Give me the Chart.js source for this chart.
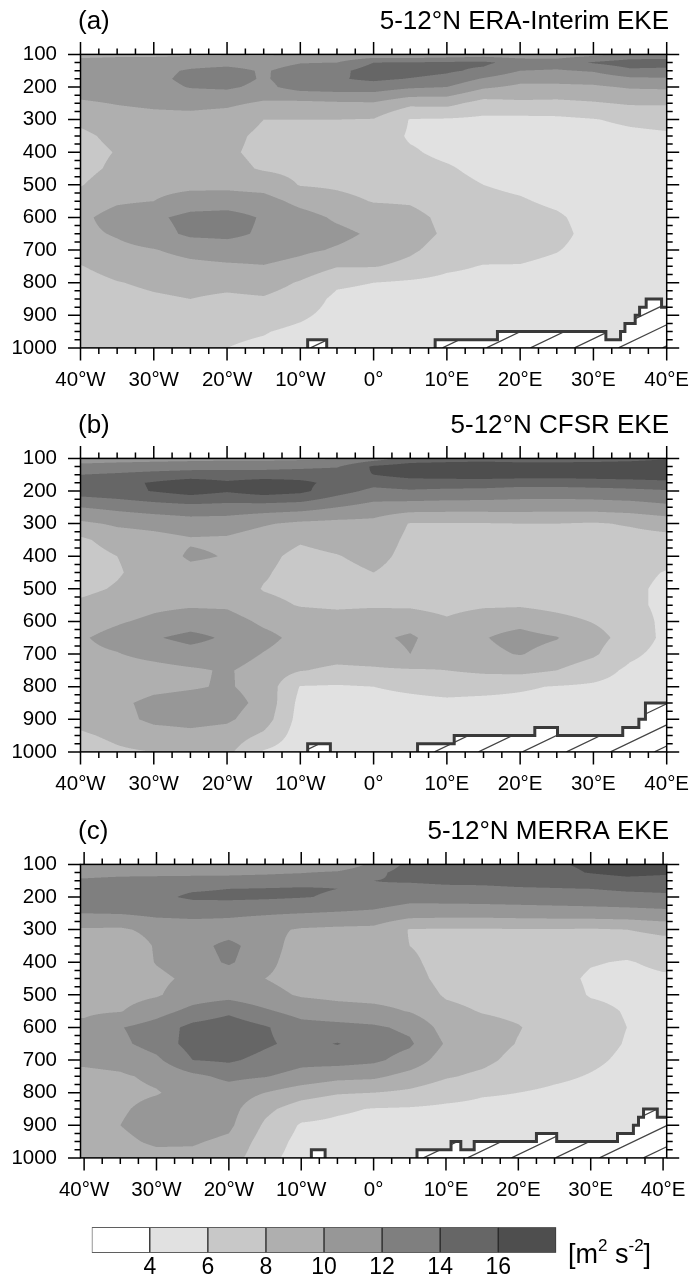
<!DOCTYPE html>
<html>
<head>
<meta charset="utf-8">
<script src="https://cdn.jsdelivr.net/npm/chart.js@4.4.1/dist/chart.umd.min.js"></script>
<style>
  html, body { margin: 0; padding: 0; background: #fff; }
  body { width: 693px; height: 1277px; position: relative; overflow: hidden;
         font-family: 'Liberation Sans', Arial, Helvetica, sans-serif; }
  canvas { position: absolute; left: 0; }
  #units { position: absolute; left: 568px; top: 1237px; font-size: 27px; line-height: 34px;
           color: #000; white-space: nowrap; }
  #units sup { font-size: 17px; vertical-align: baseline; position: relative; top: -12px; }
</style>
</head>
<body>
<canvas id="panelA" width="693" height="400" style="top:0px"></canvas>
<canvas id="panelB" width="693" height="400" style="top:404px"></canvas>
<canvas id="panelC" width="693" height="400" style="top:810px"></canvas>
<canvas id="colorbar" width="693" height="77" style="top:1200px"></canvas>
<div id="units">[m<sup>2</sup> s<sup>-2</sup>]</div>
<script>
// Analysis grid: longitude (deg E) and pressure levels (hPa)
const lonGrid = [-40, -35, -30, -25, -20, -15, -10, -5, 0, 5, 10, 15, 20, 25, 30, 35, 40];
const pLevels = [100, 125, 150, 175, 200, 250, 300, 350, 400, 450, 500, 550, 600, 650, 700, 750, 800, 850, 900, 950, 1000];

// Axis ticks
const lonTicks = [-40, -30, -20, -10, 0, 10, 20, 30, 40];
const pTicks = [100, 200, 300, 400, 500, 600, 700, 800, 900, 1000];

// Shading intervals (m2 s-2) and their fills
const contourLevels = [4, 6, 8, 10, 12, 14, 16];
const fillColors = ['#ffffff', '#e1e1e1', '#c8c8c8', '#afafaf', '#979797', '#7f7f7f', '#666666', '#4e4e4e'];

// 5-12N mean eddy kinetic energy: one row per longitude, values from 100 to 1000 hPa
const eraEke = [
  [9.5,10.6,11.2,11.3,11.0,9.7,8.4,7.6,7.3,7.4,7.9,8.7,9.5,9.5,9.0,7.9,7.1,6.7,6.5,6.3,6.2],
  [9.6,10.8,11.4,11.5,11.2,10.1,9.1,8.5,8.1,8.4,9.0,9.7,10.9,10.2,9.5,8.9,7.9,7.3,7.0,6.7,6.5],
  [9.6,10.9,11.5,11.6,11.4,10.4,9.3,8.9,8.8,9.0,9.4,10.0,11.6,11.2,9.9,9.1,8.4,7.7,7.2,6.9,6.6],
  [9.7,11.3,12.2,12.4,12.1,10.6,9.3,9.0,9.0,9.2,9.5,10.9,12.6,12.4,10.6,9.5,8.7,8.0,7.3,6.9,6.6],
  [9.8,11.4,12.6,12.8,12.3,10.4,9.0,8.5,8.3,8.6,9.5,11.0,12.8,12.5,11.0,9.7,8.6,7.6,6.8,6.3,6.0],
  [9.8,11.2,11.8,11.8,11.5,9.7,8.0,7.6,7.5,7.8,9.2,10.8,11.8,11.7,11.0,9.9,8.9,7.8,6.9,6.1,5.7],
  [10.0,11.9,12.8,12.9,12.8,9.5,8.0,7.4,7.2,7.5,7.9,9.4,10.8,10.9,10.4,9.3,7.8,7.0,6.3,5.6,5.3],
  [10.2,12.0,13.4,13.8,13.0,9.7,8.0,7.2,7.0,7.2,7.7,8.6,9.7,10.5,9.8,8.1,6.3,5.6,5.4,5.1,5.0],
  [10.5,14.0,15.0,14.4,13.0,9.8,7.9,7.0,6.6,6.8,7.3,7.9,9.0,9.7,9.2,8.1,6.0,5.4,5.1,5.0,4.9],
  [10.3,14.1,14.8,13.9,12.3,8.5,5.9,5.8,6.2,6.6,7.2,7.8,8.6,8.8,8.3,7.5,5.7,5.2,4.9,4.8,4.7],
  [10.6,14.3,14.3,13.4,12.0,8.6,5.8,5.5,5.6,6.2,6.6,7.0,7.5,7.7,7.2,6.4,5.4,5.0,4.8,4.7,4.7],
  [11.0,14.4,13.6,11.8,10.3,7.2,5.6,5.3,5.3,5.5,6.0,6.5,7.0,7.3,6.8,5.9,5.3,4.9,4.7,4.6,4.6],
  [10.8,13.2,12.0,10.6,9.6,7.6,5.5,5.2,5.1,5.2,5.6,6.2,6.8,7.1,6.6,5.9,5.3,4.9,4.7,4.6,4.6],
  [10.9,13.0,11.8,10.6,9.6,7.5,5.6,5.1,4.9,4.9,5.1,5.6,6.3,6.6,6.1,5.5,5.1,4.8,4.6,4.5,4.5],
  [11.5,14.2,12.2,10.8,9.7,7.8,5.9,5.2,5.0,4.9,4.9,5.0,5.2,5.3,5.2,5.0,4.9,4.8,4.7,4.6,4.6],
  [12.5,15.0,13.6,11.6,10.2,8.2,6.4,5.5,5.1,5.0,4.9,4.9,5.0,5.0,5.0,4.9,4.8,4.7,4.6,4.6,4.6],
  [12.8,15.0,13.4,11.8,10.3,8.2,6.7,5.7,5.2,5.0,4.9,4.9,4.9,4.9,4.8,4.8,4.8,4.7,4.7,4.7,4.7]
];

const cfsrEke = [
  [11.0,12.6,14.0,14.8,15.0,12.0,9.6,7.6,7.0,7.0,7.5,8.4,9.2,9.8,9.6,9.0,8.8,9.0,8.6,7.7,7.0],
  [11.2,12.8,14.3,15.4,15.4,12.5,10.3,8.9,8.0,7.8,8.2,9.0,9.8,10.6,9.9,9.1,8.9,9.6,9.4,8.4,7.7],
  [11.3,13.0,14.7,16.2,16.1,13.0,10.6,9.3,8.9,8.9,9.1,9.6,10.4,11.8,10.6,9.3,9.5,10.5,10.4,9.2,8.0],
  [11.4,13.2,15.0,17.0,16.9,13.3,11.0,9.8,10.3,9.4,9.3,9.8,11.0,12.6,11.2,9.7,9.8,10.8,10.6,9.5,8.2],
  [11.5,13.3,15.0,16.3,16.2,13.2,10.9,9.7,9.9,9.3,9.1,9.7,10.9,11.7,11.0,10.2,10.2,10.7,10.3,9.2,8.5],
  [11.5,13.3,15.0,16.9,17.0,13.0,10.2,9.0,8.5,8.2,7.9,8.5,9.6,10.6,9.9,9.2,9.3,9.5,9.0,7.6,5.8],
  [11.6,13.5,15.2,16.4,16.5,12.8,9.6,8.2,7.5,7.3,7.5,7.9,8.9,9.4,9.0,8.1,5.9,5.4,5.2,5.0,4.9],
  [11.8,13.8,15.4,15.5,14.8,12.0,9.4,8.7,7.9,7.4,7.3,7.7,8.8,9.3,8.7,7.6,5.8,5.4,5.2,5.0,4.9],
  [13.0,16.3,16.0,14.6,13.5,11.2,9.4,9.0,8.6,8.0,7.5,7.8,9.0,9.6,9.0,7.7,6.0,5.5,5.2,5.0,4.9],
  [14.6,17.1,16.8,15.0,13.8,10.9,7.9,7.6,7.4,7.2,7.1,7.7,9.2,10.3,10.0,7.8,6.3,5.6,5.2,5.0,4.9],
  [14.9,17.3,17.0,15.0,13.6,10.8,7.9,7.4,7.1,6.9,6.9,7.3,8.3,8.9,8.7,8.0,6.6,5.7,5.3,5.1,5.0],
  [15.1,17.4,17.1,15.0,13.5,10.8,7.9,7.3,6.9,6.8,6.9,7.7,9.3,9.9,9.6,8.4,6.5,5.6,5.3,5.1,5.0],
  [14.8,17.3,17.0,14.8,13.2,10.8,8.0,7.3,7.0,6.9,7.0,7.8,9.5,10.6,10.1,8.6,6.2,5.6,5.3,5.1,5.0],
  [14.8,17.3,16.9,14.8,13.2,10.7,8.0,7.3,6.9,6.8,6.8,7.4,8.7,10.1,9.3,8.0,5.9,5.5,5.2,5.1,5.0],
  [14.9,17.4,17.0,15.0,13.3,10.8,7.8,7.2,6.8,6.6,6.6,7.0,7.9,8.7,8.3,6.9,5.7,5.4,5.2,5.1,5.0],
  [15.2,17.5,17.1,15.2,13.5,11.0,8.2,7.2,6.8,6.5,6.4,6.5,7.0,7.2,6.4,5.6,5.3,5.2,5.1,5.0,5.0],
  [15.8,17.7,17.2,15.5,13.8,11.5,8.8,7.3,6.6,5.9,5.6,5.5,5.5,5.5,5.3,5.1,5.0,5.0,4.9,4.9,4.9]
];

const merraEke = [
  [10.8,11.5,12.2,12.8,12.7,12.0,9.8,8.3,8.1,8.3,8.9,9.7,10.4,10.6,10.3,9.6,9.2,9.2,9.3,9.0,8.7],
  [10.7,11.6,12.4,13.0,12.9,12.1,9.7,8.6,8.7,8.8,9.3,9.9,11.9,11.6,10.5,9.8,9.6,9.8,10.0,9.6,9.2],
  [10.6,11.6,12.5,13.5,13.6,12.5,10.6,10.2,10.1,9.6,9.8,11.2,12.9,12.8,11.6,10.3,9.9,10.5,10.8,10.3,9.4],
  [10.5,11.6,12.6,13.8,14.3,12.6,10.9,11.2,10.9,10.4,11.0,12.6,14.6,14.8,14.0,11.5,10.6,10.9,11.0,10.2,9.5],
  [10.4,11.6,12.7,14.0,14.4,12.4,11.0,12.6,12.3,10.6,11.3,13.6,15.2,15.3,14.3,12.5,11.0,10.7,10.4,9.6,9.0],
  [10.3,11.7,12.9,14.1,14.3,12.2,10.5,10.8,10.5,10.0,10.6,12.3,14.2,14.3,13.4,12.1,10.0,8.5,7.7,7.1,6.6],
  [10.3,11.9,13.2,14.2,14.1,12.0,9.8,9.2,9.1,9.3,9.8,11.2,12.8,13.4,12.6,11.3,8.9,7.0,5.8,5.4,5.2],
  [10.4,12.3,13.6,14.0,13.8,11.8,9.6,9.0,8.9,9.0,9.5,10.8,12.6,14.1,12.8,10.6,8.2,6.3,5.6,5.3,5.1],
  [12.5,13.5,14.0,13.8,13.3,11.6,9.5,8.8,8.6,8.7,9.3,10.6,12.3,13.0,12.4,10.4,8.0,5.9,5.4,5.2,5.1],
  [14.5,14.8,14.2,13.4,12.7,10.9,7.9,8.0,8.4,8.7,9.1,9.9,11.6,12.3,11.2,9.3,7.6,5.8,5.4,5.2,5.1],
  [15.0,15.0,14.4,13.6,12.8,10.8,7.8,7.3,7.2,7.4,7.8,8.5,9.2,9.8,9.0,8.2,6.8,5.6,5.3,5.2,5.1],
  [15.2,15.1,14.5,13.6,12.9,10.8,7.8,7.1,6.9,7.0,7.4,7.9,8.6,8.9,8.5,7.6,6.2,5.5,5.3,5.2,5.1],
  [15.5,15.3,14.7,13.8,13.0,10.9,7.9,7.0,6.8,6.8,7.1,7.6,8.1,7.9,7.4,6.8,6.0,5.5,5.3,5.2,5.1],
  [15.8,15.5,14.8,13.9,13.1,11.0,7.9,6.9,6.6,6.5,6.7,7.0,7.2,7.2,6.9,6.3,5.7,5.4,5.2,5.1,5.0],
  [16.3,16.1,15.0,14.0,13.2,11.1,7.8,6.6,6.1,5.8,5.9,6.4,6.6,6.6,6.3,5.9,5.5,5.3,5.2,5.1,5.0],
  [16.8,16.6,15.4,14.3,13.4,11.2,8.0,6.6,5.9,5.6,5.7,5.9,6.0,5.9,5.7,5.5,5.3,5.2,5.1,5.0,5.0],
  [16.5,16.3,15.3,14.4,13.6,11.4,8.6,7.0,6.3,5.8,5.5,5.4,5.4,5.3,5.2,5.1,5.0,5.0,5.0,4.9,4.9]
];

// Ground below the model surface: [west lon, east lon, surface pressure hPa]
const eraTopo = [
  [-9.0, -6.4, 975],
  [8.4, 16.9, 975], [16.9, 31.7, 950], [31.7, 33.7, 975], [33.7, 34.3, 950], [34.3, 35.7, 925],
  [35.7, 36.3, 900], [36.3, 37.2, 875], [37.2, 39.3, 850], [39.3, 40, 875]
];
const cfsrTopo = [
  [-9.0, -5.9, 975],
  [6.0, 11.0, 975], [11.0, 22.0, 950], [22.0, 25.1, 925], [25.1, 34.0, 950], [34.0, 36.2, 925],
  [36.2, 37.1, 900], [37.1, 40, 850]
];
const merraTopo = [
  [-8.6, -6.7, 975],
  [6.0, 10.7, 975], [10.7, 12.05, 950], [12.05, 13.9, 975], [13.9, 22.5, 950], [22.5, 25.3, 925],
  [25.3, 33.7, 950], [33.7, 35.9, 925], [35.9, 36.6, 900], [36.6, 37.3, 875], [37.3, 39.2, 850],
  [39.2, 40.5, 875]
];

const FONT = "'Liberation Sans', Arial, Helvetica, sans-serif";
Chart.defaults.font.family = FONT;
Chart.defaults.color = '#000';

const panels = [
  { id: 'panelA', tag: '(a)', title: '5-12\u00B0N ERA-Interim EKE', eke: eraEke, topo: eraTopo, lonMin: -40, lonMax: 40, hatchPhase: 10 },
  { id: 'panelB', tag: '(b)', title: '5-12\u00B0N CFSR EKE', eke: cfsrEke, topo: cfsrTopo, lonMin: -40, lonMax: 40, hatchPhase: 2 },
  { id: 'panelC', tag: '(c)', title: '5-12\u00B0N MERRA EKE', eke: merraEke, topo: merraTopo, lonMin: -40.5, lonMax: 40.5, hatchPhase: 35 }
];
const panelById = {};
panels.forEach(p => { panelById[p.id] = p; });

function hexToRgb(h) {
  const n = parseInt(h.slice(1), 16);
  return [(n >> 16) & 255, (n >> 8) & 255, n & 255];
}
const fillRgb = fillColors.map(hexToRgb);

// position of v inside a monotonic axis: [cell index, fraction]
function cellOf(axis, v) {
  const n = axis.length;
  if (v <= axis[0]) return [0, 0];
  if (v >= axis[n - 1]) return [n - 2, 1];
  let i = 0;
  while (axis[i + 1] < v) i++;
  return [i, (v - axis[i]) / (axis[i + 1] - axis[i])];
}
function levelIndex(v) {
  let k = 0;
  while (k < contourLevels.length && v >= contourLevels[k]) k++;
  return k;
}
function lonLabel(v) {
  if (v < 0) return (-v) + '\u00B0W';
  if (v > 0) return v + '\u00B0E';
  return '0\u00B0';
}

const ekePlugin = {
  id: 'ekePanel',
  // filled contours, sampled through the chart scales
  beforeDatasetsDraw(chart) {
    const cfg = panelById[chart.canvas.id];
    const ctx = chart.ctx, area = chart.chartArea;
    const xs = chart.scales.x, ys = chart.scales.y;
    const S = 3;
    const x0 = Math.floor(area.left), x1 = Math.ceil(area.right);
    const y0 = Math.floor(area.top), y1 = Math.ceil(area.bottom);
    const w = x1 - x0, h = y1 - y0;
    const cols = [], rows = [];
    for (let k = 0; k < w * S; k++) cols.push(cellOf(lonGrid, xs.getValueForPixel(x0 + (k + 0.5) / S)));
    for (let k = 0; k < h * S; k++) rows.push(cellOf(pLevels, ys.getValueForPixel(y0 + (k + 0.5) / S)));
    const g = cfg.eke;
    const img = ctx.createImageData(w, h);
    const d = img.data;
    for (let py = 0; py < h; py++) {
      for (let px = 0; px < w; px++) {
        let r = 0, gg = 0, b = 0;
        for (let sy = 0; sy < S; sy++) {
          const [j, ty] = rows[py * S + sy];
          for (let sx = 0; sx < S; sx++) {
            const [i, tx] = cols[px * S + sx];
            const v = (1 - tx) * ((1 - ty) * g[i][j] + ty * g[i][j + 1]) +
                      tx * ((1 - ty) * g[i + 1][j] + ty * g[i + 1][j + 1]);
            const c = fillRgb[levelIndex(v)];
            r += c[0]; gg += c[1]; b += c[2];
          }
        }
        const o = (py * w + px) * 4, n = S * S;
        d[o] = r / n; d[o + 1] = gg / n; d[o + 2] = b / n; d[o + 3] = 255;
      }
    }
    ctx.putImageData(img, x0, y0);
  },
  afterDraw(chart) {
    const cfg = panelById[chart.canvas.id];
    const ctx = chart.ctx, area = chart.chartArea;
    const xs = chart.scales.x, ys = chart.scales.y;
    const X = v => xs.getPixelForValue(v), Y = v => ys.getPixelForValue(v);
    const base = Y(1000);

    // topography mask
    const runs = [];
    let cur = null;
    cfg.topo.forEach(s => {
      if (cur && Math.abs(cur[cur.length - 1][1] - s[0]) < 1e-6) cur.push(s);
      else { cur = [s]; runs.push(cur); }
    });
    ctx.save();
    ctx.beginPath();
    ctx.rect(area.left, area.top, area.right - area.left, area.bottom - area.top);
    ctx.clip();
    runs.forEach(run => {
      const pts = [[X(run[0][0]), base]];
      run.forEach(s => { pts.push([X(s[0]), Y(s[2])]); pts.push([X(s[1]), Y(s[2])]); });
      const east = run[run.length - 1][1];
      pts.push([X(east), base]);
      ctx.save();
      ctx.beginPath();
      pts.forEach((p, k) => k ? ctx.lineTo(p[0], p[1]) : ctx.moveTo(p[0], p[1]));
      ctx.closePath();
      ctx.fillStyle = '#ffffff';
      ctx.fill();
      ctx.clip();
      ctx.beginPath();
      const L = 500, slope = 0.48;
      for (let x = area.left + cfg.hatchPhase - 44 * 14; x < area.right + 44; x += 44) {
        ctx.moveTo(x, base);
        ctx.lineTo(x + L, base - L * slope);
      }
      ctx.strokeStyle = '#444444';
      ctx.lineWidth = 1.2;
      ctx.stroke();
      ctx.restore();
      ctx.beginPath();
      const outline = X(east) < area.right - 0.5 ? pts : pts.slice(0, -1);
      outline.forEach((p, k) => k ? ctx.lineTo(p[0], p[1]) : ctx.moveTo(p[0], p[1]));
      ctx.strokeStyle = '#3a3a3a';
      ctx.lineWidth = 3;
      ctx.lineJoin = 'miter';
      ctx.lineCap = 'butt';
      ctx.stroke();
    });
    ctx.restore();

    // frame and tick marks on all four sides
    ctx.save();
    ctx.strokeStyle = '#000';
    ctx.lineWidth = 1.5;
    ctx.strokeRect(area.left, area.top, area.right - area.left, area.bottom - area.top);
    ctx.beginPath();
    for (let v = lonTicks[0]; v <= lonTicks[lonTicks.length - 1] + 1e-9; v += 2.5) {
      const len = lonTicks.includes(v) ? 12.5 : 6;
      const x = X(v);
      ctx.moveTo(x, area.bottom); ctx.lineTo(x, area.bottom + len);
      ctx.moveTo(x, area.top); ctx.lineTo(x, area.top - len);
    }
    for (let p = pTicks[0]; p <= pTicks[pTicks.length - 1]; p += 25) {
      const len = pTicks.includes(p) ? 12.5 : 6;
      const y = Y(p);
      ctx.moveTo(area.left, y); ctx.lineTo(area.left - len, y);
      ctx.moveTo(area.right, y); ctx.lineTo(area.right + len, y);
    }
    ctx.stroke();

    // panel letter and title
    ctx.fillStyle = '#000';
    ctx.font = '26px ' + FONT;
    ctx.textBaseline = 'alphabetic';
    ctx.textAlign = 'left';
    ctx.fillText(cfg.tag, 78, area.top - 25.5);
    ctx.textAlign = 'right';
    ctx.fillText(cfg.title, 669, area.top - 25.5);
    ctx.restore();
  }
};

panels.forEach(cfg => {
  const nodes = [];
  lonGrid.forEach((lon, i) => pLevels.forEach((p, j) => nodes.push({ x: lon, y: p, v: cfg.eke[i][j] })));
  new Chart(document.getElementById(cfg.id), {
    type: 'scatter',
    data: { datasets: [{ label: 'EKE', data: nodes, pointRadius: 0, pointHoverRadius: 0 }] },
    options: {
      responsive: false,
      animation: false,
      devicePixelRatio: 1,
      events: [],
      layout: { autoPadding: false, padding: { left: 0, right: 26.3, top: 54.4, bottom: 12.1 } },
      plugins: { legend: { display: false }, tooltip: { enabled: false } },
      scales: {
        x: {
          type: 'linear', position: 'bottom', min: cfg.lonMin, max: cfg.lonMax,
          afterBuildTicks: s => { s.ticks = lonTicks.map(v => ({ value: v })); },
          afterFit: s => { s.height = 40; s.paddingLeft = 0; s.paddingRight = 0; },
          ticks: { callback: v => lonLabel(v), font: { size: 20.5 }, color: '#000', padding: 20, maxRotation: 0, autoSkip: false },
          grid: { display: false, drawTicks: false },
          border: { display: false }
        },
        y: {
          type: 'linear', position: 'left', reverse: true, min: 100, max: 1000,
          afterBuildTicks: s => { s.ticks = pTicks.map(v => ({ value: v })); },
          afterFit: s => { s.width = 80.5; s.paddingTop = 0; s.paddingBottom = 0; },
          ticks: { callback: v => String(v), font: { size: 20.5 }, color: '#000', padding: 23.5, autoSkip: false },
          grid: { display: false, drawTicks: false },
          border: { display: false }
        }
      }
    },
    plugins: [ekePlugin]
  });
});

// label bar: one box per shading interval
const barEdges = [2, ...contourLevels, 18];
new Chart(document.getElementById('colorbar'), {
  type: 'bar',
  data: {
    labels: [''],
    datasets: fillColors.map((c, k) => ({
      data: [[barEdges[k], barEdges[k + 1]]],
      backgroundColor: c, borderColor: '#2a2a2a', borderWidth: 1, borderSkipped: false,
      barPercentage: 1, categoryPercentage: 1, grouped: false
    }))
  },
  options: {
    indexAxis: 'y',
    responsive: false, animation: false, devicePixelRatio: 1, events: [],
    layout: { autoPadding: false, padding: { left: 91.7, right: 136.7, top: 27.3, bottom: 0.3 } },
    plugins: { legend: { display: false }, tooltip: { enabled: false } },
    scales: {
      x: {
        type: 'linear', min: barEdges[0], max: barEdges[barEdges.length - 1],
        afterBuildTicks: s => { s.ticks = contourLevels.map(v => ({ value: v })); },
        afterFit: s => { s.height = 24; s.paddingLeft = 0; s.paddingRight = 0; },
        ticks: { font: { size: 23 }, color: '#000', padding: 1, maxRotation: 0, autoSkip: false },
        grid: { display: false, drawTicks: false },
        border: { display: false }
      },
      y: { display: false }
    }
  }
});
</script>
</body>
</html>
